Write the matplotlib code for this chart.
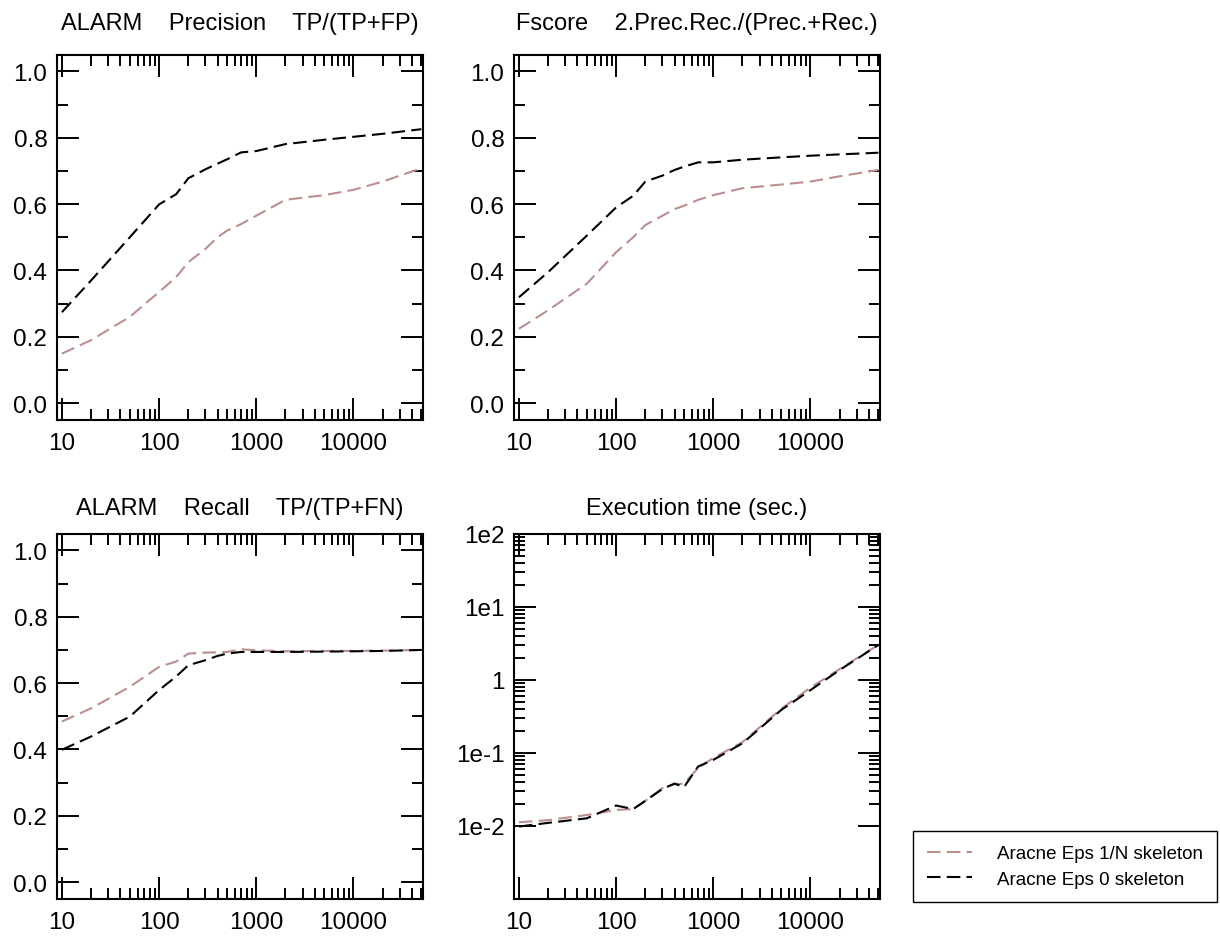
#!/usr/bin/env python3
"""
ALARM network: Aracne skeleton quality vs sample size (2x2 panels)
"""

import matplotlib
matplotlib.use("Agg")
import matplotlib.pyplot as plt
from matplotlib.ticker import FixedLocator, FixedFormatter, NullFormatter

plt.rcParams['font.family'] = ['Liberation Sans', 'DejaVu Sans']

# sample sizes
sizes = [10, 20, 50, 100, 150, 200, 300, 400, 500, 700, 1000, 2000, 5000, 10000, 20000, 50000]

# Aracne Eps 1/N skeleton
prec_1n = [0.149, 0.19, 0.26, 0.335, 0.38, 0.425, 0.465, 0.50, 0.52, 0.54, 0.565, 0.613, 0.627, 0.643, 0.668, 0.708]
fscore_1n = [0.224, 0.28, 0.36, 0.455, 0.50, 0.537, 0.565, 0.585, 0.595, 0.613, 0.627, 0.648, 0.659, 0.668, 0.684, 0.703]
recall_1n = [0.484, 0.524, 0.589, 0.649, 0.665, 0.689, 0.692, 0.693, 0.694, 0.702, 0.699, 0.696, 0.697, 0.697, 0.698, 0.700]
time_1n = [0.0112, 0.012, 0.0141, 0.0165, 0.017, 0.022, 0.033, 0.037, 0.038, 0.062, 0.085, 0.14, 0.40, 0.78, 1.40, 3.0]

# Aracne Eps 0 skeleton
prec_0 = [0.274, 0.37, 0.50, 0.599, 0.63, 0.678, 0.705, 0.722, 0.735, 0.756, 0.760, 0.781, 0.794, 0.803, 0.812, 0.826]
fscore_0 = [0.319, 0.395, 0.505, 0.59, 0.625, 0.668, 0.686, 0.703, 0.713, 0.726, 0.726, 0.734, 0.741, 0.746, 0.750, 0.755]
recall_0 = [0.399, 0.439, 0.499, 0.579, 0.62, 0.654, 0.669, 0.682, 0.689, 0.694, 0.694, 0.694, 0.695, 0.696, 0.697, 0.700]
time_0 = [0.0098, 0.011, 0.0127, 0.019, 0.017, 0.022, 0.032, 0.038, 0.034, 0.065, 0.080, 0.135, 0.385, 0.72, 1.36, 2.98]

titles = ["ALARM    Precision    TP/(TP+FP)",
          "Fscore    2.Prec.Rec./(Prec.+Rec.)",
          "ALARM    Recall    TP/(TP+FN)",
          "Execution time (sec.)"]
labels = ["Aracne Eps 1/N skeleton", "Aracne Eps 0 skeleton"]
colors = ['#bc8f8f', 'black']

fig = plt.figure(figsize=(12.2, 9.37), dpi=100)

W, H = 0.300, 0.3900
boxes = [(0.0467, 0.5507), (0.4213, 0.5507), (0.0467, 0.0395), (0.4213, 0.0395)]
series = [(prec_1n, prec_0), (fscore_1n, fscore_0), (recall_1n, recall_0), (time_1n, time_0)]
title_pads = [18.5, 18.5, 14, 14]

x_major = [10, 100, 1000, 10000]
x_minor = [m * d for d in (10, 100, 1000, 10000) for m in range(2, 10) if m * d <= 50000]

lines = []
for i, (box, (s1, s0)) in enumerate(zip(boxes, series)):
    ax = fig.add_axes([box[0], box[1], W, H])
    l1, = ax.plot(sizes, s1, color=colors[0], lw=1.5, dashes=(6.5, 3))
    l0, = ax.plot(sizes, s0, color=colors[1], lw=1.5, dashes=(6.5, 3))
    lines = [l1, l0]
    ax.set_xscale('log')
    ax.set_xlim(8.9, 52000)
    ax.xaxis.set_major_locator(FixedLocator(x_major))
    ax.xaxis.set_major_formatter(FixedFormatter(['10', '100', '1000', '10000']))
    ax.xaxis.set_minor_locator(FixedLocator(x_minor))
    ax.xaxis.set_minor_formatter(NullFormatter())

    if i < 3:
        ax.set_ylim(-0.051, 1.051)
        ax.yaxis.set_major_locator(FixedLocator([0.0, 0.2, 0.4, 0.6, 0.8, 1.0]))
        ax.yaxis.set_major_formatter(FixedFormatter(['0.0', '0.2', '0.4', '0.6', '0.8', '1.0']))
        ax.yaxis.set_minor_locator(FixedLocator([0.1, 0.3, 0.5, 0.7, 0.9]))
    else:
        ax.set_yscale('log')
        ax.set_ylim(1e-3, 1e2)
        ax.yaxis.set_major_locator(FixedLocator([1e-2, 1e-1, 1, 1e1, 1e2]))
        ax.yaxis.set_major_formatter(FixedFormatter(['1e-2', '1e-1', '1', '1e1', '1e2']))
        y_minor = [m * d for d in (1e-2, 1e-1, 1, 1e1) for m in range(2, 10)]
        ax.yaxis.set_minor_locator(FixedLocator(y_minor))
        ax.yaxis.set_minor_formatter(NullFormatter())

    ax.tick_params(which='both', direction='in', top=True, right=True, width=1.4, labelsize=17.5)
    ax.tick_params(which='major', length=16)
    ax.tick_params(which='minor', length=8)
    ax.tick_params(axis='x', which='major', pad=8.5)
    ax.tick_params(axis='y', which='major', pad=7)
    for sp in ax.spines.values():
        sp.set_linewidth(1.5)
    ax.set_title(titles[i], fontsize=17, pad=title_pads[i])

leg = fig.legend(lines, labels, loc='upper left', bbox_to_anchor=(0.7485, 0.112),
                 borderaxespad=0, fontsize=13.5, frameon=True, fancybox=False,
                 edgecolor='black', framealpha=1, handlelength=2.4, handletextpad=1.3,
                 labelspacing=0.45, borderpad=0.75)
leg.get_frame().set_linewidth(1.0)

fig.savefig("out.png", dpi=100)
